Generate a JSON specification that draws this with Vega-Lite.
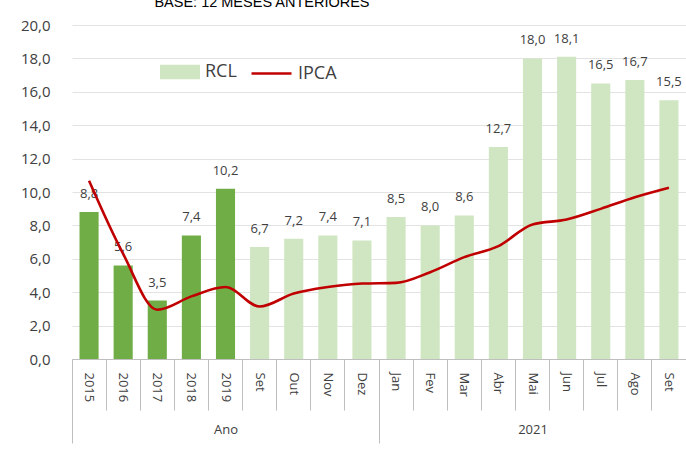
{
  "$schema": "https://vega.github.io/schema/vega-lite/v6.json",
  "autosize": "none",
  "width": 614,
  "height": 334,
  "padding": {"left": 72, "top": 25, "right": 0, "bottom": 92},
  "background": "white",
  "title": {
    "text": "BASE: 12 MESES ANTERIORES",
    "anchor": "start",
    "dx": 134,
    "offset": 8,
    "fontSize": 14.5,
    "fontWeight": 400,
    "font": "Liberation Sans",
    "color": "#000000"
  },
  "config": {
    "view": {"stroke": null},
    "locale": {
      "number": {"decimal": ",", "thousands": ".", "grouping": [3], "currency": ["R$", ""]}
    },
    "axis": {"labelColor": "#404040", "labelFont": "Open Sans"},
    "legend": {"labelFont": "Open Sans"}
  },
  "data": {
    "values": [
      {"cat": "2015", "rcl": 8.8, "ipca": 10.67, "grupo": "Ano", "tipo": "anual"},
      {"cat": "2016", "rcl": 5.6, "ipca": 6.29, "grupo": "Ano", "tipo": "anual"},
      {"cat": "2017", "rcl": 3.5, "ipca": 2.95, "grupo": "Ano", "tipo": "anual"},
      {"cat": "2018", "rcl": 7.4, "ipca": 3.75, "grupo": "Ano", "tipo": "anual"},
      {"cat": "2019", "rcl": 10.2, "ipca": 4.31, "grupo": "Ano", "tipo": "anual"},
      {"cat": "Set", "rcl": 6.7, "ipca": 3.14, "grupo": "Ano", "tipo": "mensal"},
      {"cat": "Out", "rcl": 7.2, "ipca": 3.92, "grupo": "Ano", "tipo": "mensal"},
      {"cat": "Nov", "rcl": 7.4, "ipca": 4.31, "grupo": "Ano", "tipo": "mensal"},
      {"cat": "Dez", "rcl": 7.1, "ipca": 4.52, "grupo": "Ano", "tipo": "mensal"},
      {"cat": "Jan", "rcl": 8.5, "ipca": 4.56, "grupo": "2021", "tipo": "mensal"},
      {"cat": "Fev", "rcl": 8.0, "ipca": 5.20, "grupo": "2021", "tipo": "mensal"},
      {"cat": "Mar", "rcl": 8.6, "ipca": 6.10, "grupo": "2021", "tipo": "mensal"},
      {"cat": "Abr", "rcl": 12.7, "ipca": 6.76, "grupo": "2021", "tipo": "mensal"},
      {"cat": "Mai", "rcl": 18.0, "ipca": 8.06, "grupo": "2021", "tipo": "mensal"},
      {"cat": "Jun", "rcl": 18.1, "ipca": 8.35, "grupo": "2021", "tipo": "mensal"},
      {"cat": "Jul", "rcl": 16.5, "ipca": 8.99, "grupo": "2021", "tipo": "mensal"},
      {"cat": "Ago", "rcl": 16.7, "ipca": 9.68, "grupo": "2021", "tipo": "mensal"},
      {"cat": "Set ", "rcl": 15.5, "ipca": 10.25, "grupo": "2021", "tipo": "mensal"}
    ]
  },
  "layer": [
    {
      "encoding": {
        "x": {
          "field": "cat",
          "type": "nominal",
          "sort": ["2015", "2016", "2017", "2018", "2019", "Set", "Out", "Nov", "Dez", "Jan", "Fev", "Mar", "Abr", "Mai", "Jun", "Jul", "Ago", "Set "],
          "scale": {"paddingInner": 0, "paddingOuter": 0},
          "axis": {
            "orient": "bottom",
            "title": null,
            "bandPosition": 0,
            "labelAngle": 90,
            "labelAlign": "left",
            "labelBaseline": "middle",
            "labelFontSize": 13,
            "labelPadding": -38,
            "tickSize": 51,
            "tickColor": "#bfbfbf",
            "domainColor": "#bfbfbf",
            "labelExpr": "trim(datum.value)"
          }
        },
        "y": {
          "field": "rcl",
          "type": "quantitative",
          "scale": {"domain": [0, 20], "nice": false},
          "axis": {
            "title": null,
            "values": [0, 2, 4, 6, 8, 10, 12, 14, 16, 18, 20],
            "format": ".1f",
            "domain": false,
            "ticks": false,
            "labelFontSize": 15,
            "labelPadding": 22,
            "gridColor": "#e3e3e3",
            "labelFont": "Open Sans"
          }
        }
      },
      "layer": [
        {
          "transform": [{"filter": "datum.tipo === 'mensal'"}],
          "mark": {"type": "bar", "width": {"band": 0.56}},
          "encoding": {
            "fill": {
              "datum": "RCL",
              "scale": {"range": ["#d0e6c2"]},
              "legend": {
                "title": null,
                "orient": "none",
                "legendX": 88,
                "legendY": 27,
                "padding": 0,
                "symbolType": "M-1,-0.36H1V0.36H-1Z",
                "symbolSize": 1600,
                "symbolStrokeWidth": 0,
                "labelFontSize": 18,
                "labelColor": "#404040",
                "labelOffset": 5,
                "encode": {"symbols": {"update": {"fill": {"value": "#a6cf8c"}, "stroke": {"value": "transparent"}}}}
              }
            }
          }
        },
        {
          "transform": [{"filter": "datum.tipo === 'anual'"}],
          "mark": {"type": "bar", "width": {"band": 0.56}, "fill": "#70ad47"}
        },
        {
          "mark": {"type": "text", "baseline": "bottom", "dy": -11, "fontSize": 13, "font": "Open Sans", "color": "#404040"},
          "encoding": {"text": {"field": "rcl", "type": "quantitative", "format": ".1f"}}
        },
        {
          "mark": {"type": "line", "interpolate": "monotone", "strokeWidth": 2.6},
          "encoding": {
            "y": {"field": "ipca", "type": "quantitative"},
            "stroke": {
              "datum": "IPCA",
              "scale": {"range": ["#c00000"]},
              "legend": {
                "title": null,
                "orient": "none",
                "legendX": 178,
                "legendY": 27,
                "padding": 0,
                "symbolType": "stroke",
                "symbolSize": 1600,
                "symbolStrokeWidth": 2.5,
                "labelFontSize": 18,
                "labelColor": "#404040",
                "labelOffset": 5
              }
            }
          }
        }
      ]
    },
    {
      "data": {"values": [{"pos": 0}, {"pos": 18}]},
      "mark": {"type": "rule", "opacity": 0},
      "encoding": {
        "x": {
          "field": "pos",
          "type": "quantitative",
          "scale": {"domain": [0, 18], "nice": false, "zero": false},
          "axis": {
            "orient": "bottom",
            "title": null,
            "grid": false,
            "domain": false,
            "values": [0, 4.5, 9, 13.5],
            "tickSize": 84,
            "tickColor": {"condition": {"test": "datum.value === 0 || datum.value === 9", "value": "#bfbfbf"}, "value": "transparent"},
            "labelExpr": "datum.value === 4.5 ? 'Ano' : datum.value === 13.5 ? '2021' : ''",
            "labelPadding": -20,
            "labelFontSize": 13,
            "labelFont": "Open Sans",
            "labelColor": "#404040"
          }
        }
      }
    }
  ],
  "resolve": {"scale": {"x": "independent"}, "axis": {"x": "independent"}}
}
